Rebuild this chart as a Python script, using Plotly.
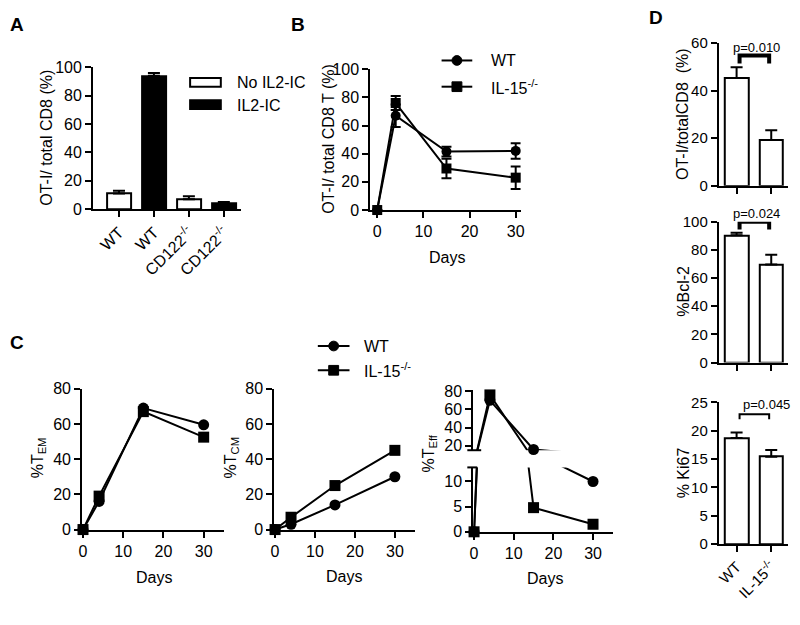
import plotly.graph_objects as go

# ---------------- data ----------------
# Panel A
a_labels = ["WT", "WT", "CD122<sup>-/-</sup>", "CD122<sup>-/-</sup>"]
a_treat = ["No IL2-IC", "IL2-IC", "No IL2-IC", "IL2-IC"]
a_values = [11, 94, 7, 4]
a_err = [2, 2, 2, 1]

# Panel B
days = [0, 4, 15, 30]
b_wt = [0, 67, 41.5, 42]
b_wt_err = [0, 8, 3.5, 5.5]
b_ko = [0, 76, 29.5, 23]
b_ko_err = [0, 5, 7, 8]

# Panel C
c_em_wt = [0, 16, 69, 59.5]
c_em_ko = [0, 19, 67, 52.5]
c_cm_wt = [0, 3, 14, 30]
c_cm_ko = [0, 7, 25, 45]
c_eff_wt = [0, 70, 15.8, 10]
c_eff_wt_errminus = [0, 0, 11, 0]
c_eff_ko = [0, 76, 4.8, 1.5]

# Panel D
d_groups = ["WT", "IL-15<sup>-/-</sup>"]
d1 = [45.3, 19.2]
d1_err = [4.5, 4.1]
d2 = [90.3, 69.6]
d2_err = [1.8, 7.0]
d3 = [18.7, 15.4]
d3_err = [1.0, 1.2]
p_texts = ["p=0.010", "p=0.024", "p=0.045"]

# ---------------- helpers ----------------
W, H = 800, 625
FONT = "Arial, Liberation Sans, Helvetica, sans-serif"


def xd(a, b):
    return [a / W, b / W]


def yd(top, bottom):
    return [1 - bottom / H, 1 - top / H]


def px(x):
    return x / W


def py(y):
    return 1 - y / H


def axis(size=16, **kw):
    d = dict(showline=True, linewidth=2, linecolor="black", ticks="outside",
             ticklen=6, tickwidth=2, tickcolor="black", showgrid=False,
             zeroline=False, fixedrange=True,
             tickfont=dict(size=size, color="black", family=FONT))
    d.update(kw)
    return d


fig = go.Figure()

# ---------------- Panel A bars ----------------
a_pos = list(range(len(a_labels)))
for treat, fill in [("No IL2-IC", "white"), ("IL2-IC", "black")]:
    idx = [i for i, t in enumerate(a_treat) if t == treat]
    fig.add_trace(go.Bar(
        x=[a_pos[i] for i in idx], y=[a_values[i] for i in idx], width=0.68,
        marker=dict(color=fill, line=dict(color="black", width=2)),
        error_y=dict(type="data", symmetric=False, array=[a_err[i] for i in idx],
                     arrayminus=[0] * len(idx), color="black", thickness=2, width=6),
        xaxis="x", yaxis="y", showlegend=False, cliponaxis=False))


def line_trace(y, sym, xa, ya, err=None, errminus=None, size=10):
    t = dict(x=days, y=y, mode="lines+markers",
             line=dict(color="black", width=2),
             marker=dict(symbol=sym, size=size, color="black"),
             xaxis=xa, yaxis=ya, showlegend=False, cliponaxis=False)
    if err is not None:
        t["error_y"] = dict(type="data", array=err, color="black", thickness=2, width=5)
    if errminus is not None:
        t["error_y"] = dict(type="data", symmetric=False, array=[0] * len(errminus),
                            arrayminus=errminus, color="black", thickness=2, width=0)
    return go.Scatter(**t)


# ---------------- Panel B ----------------
fig.add_trace(line_trace(b_wt, "circle", "x2", "y2", err=b_wt_err))
fig.add_trace(line_trace(b_ko, "square", "x2", "y2", err=b_ko_err))

# ---------------- Panel C ----------------
fig.add_trace(line_trace(c_em_wt, "circle", "x3", "y3", size=11))
fig.add_trace(line_trace(c_em_ko, "square", "x3", "y3", size=11))
fig.add_trace(line_trace(c_cm_wt, "circle", "x4", "y4", size=11))
fig.add_trace(line_trace(c_cm_ko, "square", "x4", "y4", size=11))
# broken axis: upper and lower segment
fig.add_trace(line_trace(c_eff_wt, "circle", "x5", "y5", errminus=c_eff_wt_errminus, size=11))
fig.add_trace(line_trace(c_eff_ko, "square", "x5", "y5", size=11))
fig.add_trace(line_trace(c_eff_wt, "circle", "x6", "y6", size=11))
fig.add_trace(line_trace(c_eff_ko, "square", "x6", "y6", size=11))

# ---------------- Panel D ----------------
d_pos = list(range(len(d_groups)))
for vals, errs, xa, ya in [(d1, d1_err, "x7", "y7"), (d2, d2_err, "x8", "y8"), (d3, d3_err, "x9", "y9")]:
    fig.add_trace(go.Bar(
        x=d_pos, y=vals, width=0.69,
        marker=dict(color="white", line=dict(color="black", width=2)),
        error_y=dict(type="data", symmetric=False, array=errs, arrayminus=[0] * len(errs),
                     color="black", thickness=2, width=6),
        xaxis=xa, yaxis=ya, showlegend=False, cliponaxis=False))

# ---------------- layout / axes ----------------
layout = dict(width=W, height=H, margin=dict(l=0, r=0, t=0, b=0),
              paper_bgcolor="white", plot_bgcolor="rgba(0,0,0,0)",
              showlegend=False, font=dict(family=FONT, color="black"),
              bargap=0)

layout["xaxis"] = axis(domain=xd(90, 239), range=[-0.74, 3.48], tickvals=a_pos,
                       ticktext=a_labels, tickangle=-45, anchor="y")
layout["yaxis"] = axis(domain=yd(60, 206), range=[0, 100], tickvals=[0, 20, 40, 60, 80, 100], anchor="x")

layout["xaxis2"] = axis(domain=xd(370, 522), range=[-1.5, 31.1], tickvals=[0, 10, 20, 30], anchor="y2")
layout["yaxis2"] = axis(domain=yd(62, 207), range=[0, 100], tickvals=[0, 20, 40, 60, 80, 100], anchor="x2")

layout["xaxis3"] = axis(domain=xd(79, 222), range=[-0.2, 35], tickvals=[0, 10, 20, 30], anchor="y3")
layout["yaxis3"] = axis(domain=yd(391, 536), range=[0, 80], tickvals=[0, 20, 40, 60, 80], anchor="x3")
layout["xaxis4"] = axis(domain=xd(273, 415), range=[-0.2, 35], tickvals=[0, 10, 20, 30], anchor="y4")
layout["yaxis4"] = axis(domain=yd(391, 536), range=[0, 80], tickvals=[0, 20, 40, 60, 80], anchor="x4")

layout["xaxis5"] = axis(domain=xd(474, 615), range=[-0.2, 35], visible=False, anchor="y5")
layout["yaxis5"] = axis(domain=yd(392.7, 454.3), range=[15, 81], tickvals=[20, 40, 60, 80], anchor="x5")
layout["xaxis6"] = axis(domain=xd(474, 615), range=[-0.2, 35], tickvals=[0, 10, 20, 30], anchor="y6")
layout["yaxis6"] = axis(domain=yd(472, 538.3), range=[0, 12.8], tickvals=[0, 5, 10], anchor="x6")

d_y = [("7", (35, 182), 60, 20), ("8", (219, 364), 100, 20), ("9", (405, 551), 25, 5)]
for n, (t, b), top, step in d_y:
    layout["xaxis" + n] = axis(size=15, domain=xd(722, 792), range=[-0.514, 1.486], tickvals=d_pos,
                               ticktext=d_groups, tickangle=-45,
                               showticklabels=(n == "9"), anchor="y" + n)
    layout["yaxis" + n] = axis(size=15, domain=yd(t, b), range=[0, top],
                               tickvals=list(range(0, top + 1, step)), anchor="x" + n)

fig.update_layout(**layout)

# ---------------- annotations ----------------
ann = []


def txt(x, y, s, size=16, angle=0, xanchor="center", bold=False):
    ann.append(dict(x=px(x), y=py(y), xref="paper", yref="paper", text=("<b>%s</b>" % s) if bold else s,
                    showarrow=False, textangle=angle, xanchor=xanchor, yanchor="middle",
                    font=dict(size=size, color="black", family=FONT)))


# panel letters
txt(13, 16, "A", size=19, bold=True)
txt(297, 16, "B", size=19, bold=True)
txt(13, 343, "C", size=19, bold=True)
txt(659, 9, "D", size=19, bold=True)

# y titles
txt(43, 133, "OT-I/ total CD8 (%)", angle=-90)
txt(327, 134, "OT-I/ total CD8 T (%)", angle=-90)
txt(35, 462, "%T<sub>EM</sub>", angle=-90)
txt(230, 462, "%T<sub>CM</sub>", angle=-90)
txt(430, 458, "%T<sub>Eff</sub>", angle=-90)
txt(686, 108, "OT-I/totalCD8&nbsp; (%)", angle=-90)
txt(686, 291, "%Bcl-2", angle=-90)
txt(686, 478, "% Ki67", angle=-90)

# x titles
txt(447, 256, "Days")
txt(152, 585, "Days")
txt(343, 584, "Days")
txt(546, 586, "Days")

# legends
txt(233, 76, "No IL2-IC", xanchor="left")
txt(233, 99, "IL2-IC", xanchor="left")
txt(490, 53, "WT", xanchor="left")
txt(490, 80, "IL-15<sup>-/-</sup>", xanchor="left")
txt(362, 347, "WT", xanchor="left")
txt(362, 372, "IL-15<sup>-/-</sup>", xanchor="left")

# p values
for (x, y), s in zip([(760, 40), (760, 211), (770, 407)], p_texts):
    txt(x, y, s, size=13)

fig.update_layout(annotations=ann)

# ---------------- shapes ----------------
shapes = []
# legend A
shapes.append(dict(type="rect", xref="paper", yref="paper", x0=px(188), x1=px(219), y0=py(80), y1=py(71),
                   line=dict(color="black", width=2), fillcolor="white"))
shapes.append(dict(type="rect", xref="paper", yref="paper", x0=px(188), x1=px(219), y0=py(103), y1=py(94),
                   line=dict(color="black", width=2), fillcolor="black"))
# legends B and C
for (lx0, lx1, ys) in [(442, 473, (53, 80)), (317, 349, (347, 372))]:
    cx = (lx0 + lx1) / 2
    for y, sym in zip(ys, ["circle", "rect"]):
        shapes.append(dict(type="line", xref="paper", yref="paper", x0=px(lx0), x1=px(lx1), y0=py(y), y1=py(y),
                           line=dict(color="black", width=2)))
        shapes.append(dict(type=sym, xref="paper", yref="paper", x0=px(cx - 5), x1=px(cx + 5),
                           y0=py(y + 5), y1=py(y - 5), line=dict(color="black", width=1), fillcolor="black"))
# broken axis marks
shapes.append(dict(type="line", xref="paper", yref="paper", x0=px(468), x1=px(482), y0=py(454.3), y1=py(454.3),
                   line=dict(color="black", width=2)))
shapes.append(dict(type="line", xref="paper", yref="paper", x0=px(468), x1=px(478), y0=py(472), y1=py(472),
                   line=dict(color="black", width=2)))
# significance brackets (data coordinates of D axes)
brackets = [("x7", "y7", 54.7, 51.4, 4), ("x8", "y8", 100, 94.5, 4), ("x9", "y9", 22.9, 22.0, 2)]
for xa, ya, top, bot, w in brackets:
    shapes.append(dict(type="path", xref=xa, yref=ya,
                       path="M 0.086,%s L 0.086,%s L 0.94,%s L 0.94,%s" % (bot, top, top, bot),
                       line=dict(color="black", width=w)))
fig.update_layout(shapes=shapes)

fig.write_html("out.html", config={"displayModeBar": False},
               post_script="document.body.style.margin='0px';")
